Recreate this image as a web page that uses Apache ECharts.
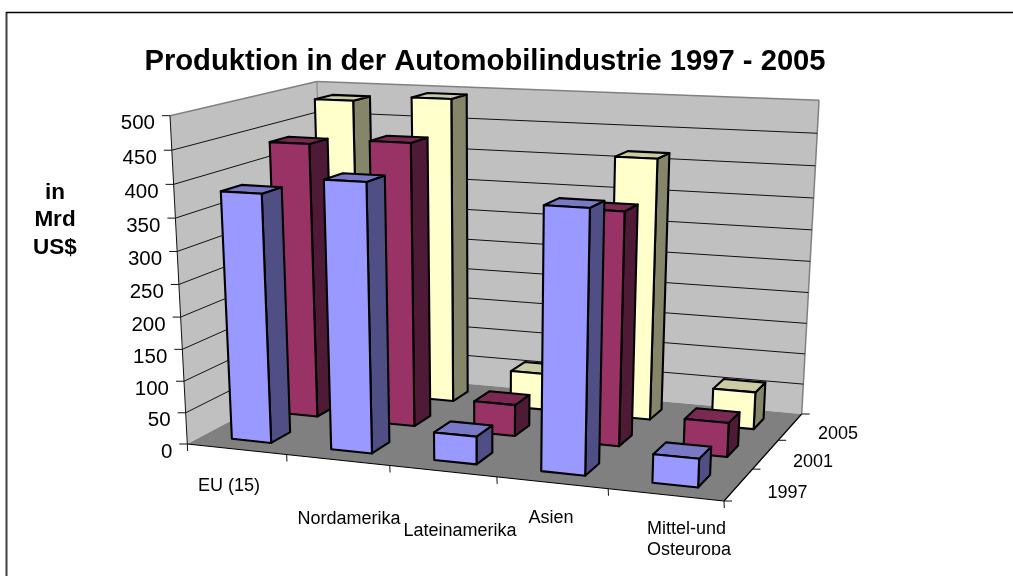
<!DOCTYPE html>
<html><head><meta charset="utf-8">
<style>html,body{margin:0;padding:0;background:#fff}#c{width:1013px;height:576px}</style>
<script src="https://cdn.jsdelivr.net/npm/echarts@6/dist/echarts.min.js"></script></head>
<body><div id="c"></div>
<script>
const categories = ['EU (15)', 'Nordamerika', 'Lateinamerika', 'Asien', 'Mittel-und\nOsteuropa'];
const years = ['1997', '2001', '2005'];
const values1997 = [385, 411, 43, 392, 43];
const values2001 = [437, 446, 50, 361, 53];
const values2005 = [485, 494, 60, 416, 60];
const valueTicks = [0, 50, 100, 150, 200, 250, 300, 350, 400, 450, 500];

const fronts = ['#9999FF', '#993366', '#FFFFCC'];
const sides = ['#4F4F85', '#4F1A35', '#85856A'];
const tops = ['#7878C4', '#7A2952', '#CCCCA3'];
const rows = [values1997, values2001, values2005];

// perspective camera, fitted to the box corners of the plot
const FL = [187.3, 444], FR = [724, 501], BR = [801.7, 414], BL = [325, 371];
const TFL = [170, 115.7], TBR = [819, 101];
function cross(a, b) { return [a[1]*b[2]-a[2]*b[1], a[2]*b[0]-a[0]*b[2], a[0]*b[1]-a[1]*b[0]]; }
function h(p) { return [p[0], p[1], 1]; }
const V = cross(cross(h(FL), h(TFL)), cross(h(BR), h(TBR)));
const dx1 = FR[0]-BR[0], dx2 = BL[0]-BR[0], sx = FL[0]-FR[0]+BR[0]-BL[0];
const dy1 = FR[1]-BR[1], dy2 = BL[1]-BR[1], sy = FL[1]-FR[1]+BR[1]-BL[1];
const D = dx1*dy2-dx2*dy1;
const gx = (sx*dy2-dx2*sy)/D, gz = (dx1*sy-sx*dy1)/D;
const c1 = [FR[0]-FL[0]+gx*FR[0], FR[1]-FL[1]+gx*FR[1], gx];
const c2 = [BL[0]-FL[0]+gz*BL[0], BL[1]-FL[1]+gz*BL[1], gz];
const c4 = [FL[0], FL[1], 1];
const lam = (c4[1]-TFL[1]*c4[2]) / (TFL[1]*V[2] - V[1]);
function project(x, z, y) {
  const p = [0,1,2].map(i => x*c1[i] + z*c2[i] + y*lam*V[i] + c4[i]);
  return [p[0]/p[2], p[1]/p[2]];
}
const grid = { left: 100, top: 100, width: 500, height: 300 };
const barW = 0.4, barOff = 0.3, nCat = categories.length, nRow = years.length;

function boxItem(rowIdx) {
  return function (params, api) {
    const a = api.coord([api.value(0), 0]), b = api.coord([api.value(0) + 1, api.value(1)]);
    const x0 = (a[0]-grid.left)/grid.width, x1 = (b[0]-grid.left)/grid.width;
    const y = (grid.top+grid.height-b[1])/grid.height;
    const xa = x0 + (x1-x0)*barOff, xb = x0 + (x1-x0)*(barOff+barW);
    const za = (rowIdx+barOff)/nRow, zb = (rowIdx+barOff+barW)/nRow;
    const P = project;
    const st = c => ({ fill: c, stroke: '#000', lineWidth: 2.1, lineJoin: 'round' });
    const poly = (pts, c) => ({ type: 'polygon', shape: { points: pts }, style: st(c) });
    return { type: 'group', children: [
      poly([P(xb,za,0), P(xb,zb,0), P(xb,zb,y), P(xb,za,y)], sides[rowIdx]),
      poly([P(xa,za,y), P(xb,za,y), P(xb,zb,y), P(xa,zb,y)], tops[rowIdx]),
      poly([P(xa,za,0), P(xb,za,0), P(xb,za,y), P(xa,za,y)], fronts[rowIdx])
    ]};
  };
}
function frameItem() {
  const kids = [];
  const wallStroke = { stroke: '#808080', lineWidth: 1.5 };
  kids.push({ type: 'polygon', shape: { points: [project(0,0,0), project(0,1,0), project(0,1,1), project(0,0,1)] }, style: { fill: '#C0C0C0' } });
  kids.push({ type: 'polygon', shape: { points: [project(0,1,0), project(1,1,0), project(1,1,1), project(0,1,1)] }, style: { fill: '#C0C0C0' } });
  kids.push({ type: 'polygon', shape: { points: [project(0,0,0), project(1,0,0), project(1,1,0), project(0,1,0)] }, style: { fill: '#808080' } });
  const line = (p, q, s) => ({ type: 'line', shape: { x1: p[0], y1: p[1], x2: q[0], y2: q[1] }, style: s });
  const black = { stroke: '#111', lineWidth: 1 };
  kids.push(line(project(0,0,1), project(0,1,1), wallStroke));
  kids.push(line(project(0,1,1), project(1,1,1), wallStroke));
  kids.push(line(project(1,1,1), project(1,1,0), wallStroke));
  kids.push(line(project(0,1,1), project(0,1,0), { stroke: '#808080', lineWidth: 1 }));
  valueTicks.forEach(v => {
    const y = v/500;
    if (v > 0 && v < 500) {
      kids.push(line(project(0,0,y), project(0,1,y), black));
      kids.push(line(project(0,1,y), project(1,1,y), black));
    }
    const a = project(0,0,y);
    kids.push(line([a[0]-8, a[1]], a, black));
    kids.push({ type: 'text', x: a[0]-15, y: a[1]+8, style: { text: String(v), fill: '#000', font: '20.5px "Liberation Sans"', textAlign: 'right', textVerticalAlign: 'middle' } });
  });
  kids.push(line(project(0,0,0), project(0,0,1), black));
  kids.push(line(project(0,0,0), project(1,0,0), { stroke:'#000', lineWidth: 1.2 }));
  kids.push(line(project(1,0,0), project(1,1,0), { stroke:'#000', lineWidth: 1.2 }));
  for (let i = 0; i <= nCat; i++) {
    const a = project(i/nCat, 0, 0);
    kids.push(line(a, [a[0]+0.3, a[1]+7], black));
  }
  for (let j = 0; j <= nRow; j++) {
    const a = project(1, j/nRow, 0);
    kids.push(line(a, [a[0]+8, a[1]], black));
  }
  return { type: 'group', children: kids };
}
const catLabelPos = [[229,486],[349,519.5],[460,531.5],[551,518.5],[647,540]];
const yearLabelPos = [[787.5,493],[813,462],[838,434]];

const series = [];
series.push({ type: 'custom', coordinateSystem: 'cartesian2d', silent: true, data: [[0, 0]], renderItem: frameItem, clip: false, z: 1 });
for (let r = nRow-1; r >= 0; r--) {
  series.push({
    type: 'custom', name: years[r], coordinateSystem: 'cartesian2d', silent: true, clip: false, z: 2,
    data: rows[r].map((v, i) => [i, v]),
    renderItem: boxItem(r)
  });
}
const graphic = [
  { type: 'line', shape: { x1: 6.5, y1: 12, x2: 6.5, y2: 576 }, style: { stroke: '#404040', lineWidth: 2 }, silent: true },
  { type: 'line', shape: { x1: 6, y1: 12.5, x2: 1013, y2: 12.5 }, style: { stroke: '#000', lineWidth: 1.5 }, silent: true },
  { type: 'text', x: 485, y: 62, style: { text: 'Produktion in der Automobilindustrie 1997 - 2005', font: 'bold 29.2px "Liberation Sans"', fill: '#000', textAlign: 'center', textVerticalAlign: 'middle' }, silent: true },
  { type: 'text', x: 55, y: 220, style: { text: 'in\nMrd\nUS$', font: 'bold 22.5px "Liberation Sans"', fill: '#000', textAlign: 'center', textVerticalAlign: 'middle', lineHeight: 27.5 }, silent: true }
];
categories.forEach((c, i) => graphic.push({ type: 'text', x: catLabelPos[i][0], y: catLabelPos[i][1], style: { text: c, font: '18px "Liberation Sans"', fill: '#000', textAlign: i === 4 ? 'left' : 'center', textVerticalAlign: 'middle', lineHeight: 21 }, silent: true, z: 5 }));
graphic.push({ type: 'rect', shape: { x: 640, y: 555, width: 110, height: 21 }, style: { fill: '#fff' }, silent: true, z: 6 });
years.forEach((c, i) => graphic.push({ type: 'text', x: yearLabelPos[i][0], y: yearLabelPos[i][1], style: { text: c, font: '18px "Liberation Sans"', fill: '#000', textAlign: 'center', textVerticalAlign: 'middle' }, silent: true }));

const chart = echarts.init(document.getElementById('c'), null, { renderer: 'canvas' });
chart.setOption({
  animation: false,
  backgroundColor: '#fff',
  grid: grid,
  xAxis: { type: 'value', min: 0, max: nCat, show: false },
  yAxis: { type: 'value', min: 0, max: 500, show: false },
  graphic: graphic,
  series: series
});
</script></body></html>
